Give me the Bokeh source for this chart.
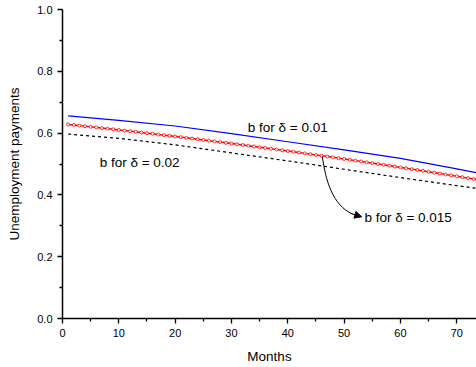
from bokeh.plotting import figure
from bokeh.models import FixedTicker, PrintfTickFormatter, Arrow, NormalHead
from bokeh.core.properties import value
from bokeh.embed import file_html
from bokeh.resources import INLINE

# ---- data ----
months_red = list(range(1, 75))
b_delta_015 = [0.6281, 0.6262, 0.6242, 0.6223, 0.6203, 0.6183, 0.6163, 0.6143, 0.6123, 0.6103,
               0.6082, 0.6061, 0.6040, 0.6019, 0.5998, 0.5977, 0.5955, 0.5934, 0.5912, 0.5890,
               0.5868, 0.5846, 0.5823, 0.5801, 0.5778, 0.5755, 0.5732, 0.5709, 0.5686, 0.5663,
               0.5639, 0.5615, 0.5591, 0.5567, 0.5543, 0.5519, 0.5494, 0.5470, 0.5445, 0.5420,
               0.5395, 0.5370, 0.5344, 0.5319, 0.5293, 0.5267, 0.5241, 0.5215, 0.5189, 0.5163,
               0.5136, 0.5109, 0.5082, 0.5055, 0.5028, 0.5001, 0.4973, 0.4946, 0.4918, 0.4890,
               0.4862, 0.4834, 0.4805, 0.4777, 0.4748, 0.4719, 0.4690, 0.4661, 0.4632, 0.4603,
               0.4573, 0.4543, 0.4513, 0.4483]

months_line = [1, 10, 20, 30, 40, 50, 60, 70, 74]
b_delta_01 = [0.656, 0.641, 0.623, 0.598, 0.572, 0.546, 0.518, 0.484, 0.470]
b_delta_02 = [0.597, 0.583, 0.562, 0.536, 0.510, 0.483, 0.456, 0.430, 0.420]

x_ticks = [0, 10, 20, 30, 40, 50, 60, 70]
x_minor = [5, 15, 25, 35, 45, 55, 65]
y_ticks = [0.0, 0.2, 0.4, 0.6, 0.8, 1.0]
y_minor = [0.1, 0.3, 0.5, 0.7, 0.9]

labels = ["b for \u03b4 = 0.01", "b for \u03b4 = 0.02", "b for \u03b4 = 0.015"]
label_x = [32.9, 6.6, 53.6]
label_y = [0.618, 0.505, 0.328]

FONT = "Liberation Sans"

p = figure(width=476, height=367, output_backend="svg", toolbar_location=None,
           x_range=(0, 73.5), y_range=(0, 1.0),
           min_border_left=62, min_border_right=0, min_border_top=9, min_border_bottom=49)
p.outline_line_color = None
p.xgrid.visible = False
p.ygrid.visible = False

for ax in (p.xaxis[0], p.yaxis[0]):
    ax.axis_line_width = 1.5
    ax.axis_line_color = "black"
    ax.major_tick_line_color = "black"
    ax.minor_tick_line_color = "black"
    ax.major_tick_line_width = 1.3
    ax.minor_tick_line_width = 1.3
    ax.major_tick_in = 0
    ax.major_tick_out = 5
    ax.minor_tick_in = 0
    ax.minor_tick_out = 3
    ax.major_label_text_font = FONT
    ax.major_label_text_font_size = "11px"
    ax.major_label_text_color = "black"
    ax.axis_label_text_font = FONT
    ax.axis_label_text_font_size = "13.5px"
    ax.axis_label_text_font_style = "normal"
    ax.axis_label_text_color = "black"

p.xaxis.ticker = FixedTicker(ticks=x_ticks, minor_ticks=x_minor)
p.yaxis.ticker = FixedTicker(ticks=y_ticks, minor_ticks=y_minor)
p.yaxis.formatter = PrintfTickFormatter(format="%.1f")
p.xaxis.axis_label = "Months"
p.yaxis.axis_label = "Unemployment payments"
p.xaxis.axis_label_standoff = 9
p.yaxis.axis_label_standoff = 12

p.line(months_line, b_delta_01, line_color="#0000ff", line_width=1.2)
p.line(months_line, b_delta_02, line_color="black", line_width=1.2, line_dash="3 3")
p.line(months_red, b_delta_015, line_color="#ff0000", line_width=1.5)
p.scatter(months_red, b_delta_015, marker="circle", size=3, line_color="#ff0000",
          fill_color="white", line_width=0.8)

p.text(x=label_x, y=label_y, text=labels, text_font=value(FONT), text_font_size="13.5px",
       text_align="left", text_baseline="middle", text_color="black")

# curved arrow pointing to the red curve label
p.bezier(x0=[46.13], y0=[0.524], x1=[51.51], y1=[0.338],
         cx0=[46.71], cy0=[0.447], cx1=[47.96], cy1=[0.366],
         line_color="black", line_width=1)
p.add_layout(Arrow(end=NormalHead(size=7, fill_color="black", line_color="black"),
                   x_start=51.15, y_start=0.340, x_end=53.11, y_end=0.329,
                   line_color="black", line_width=1))

open("out.html", "w").write(file_html(p, INLINE))
